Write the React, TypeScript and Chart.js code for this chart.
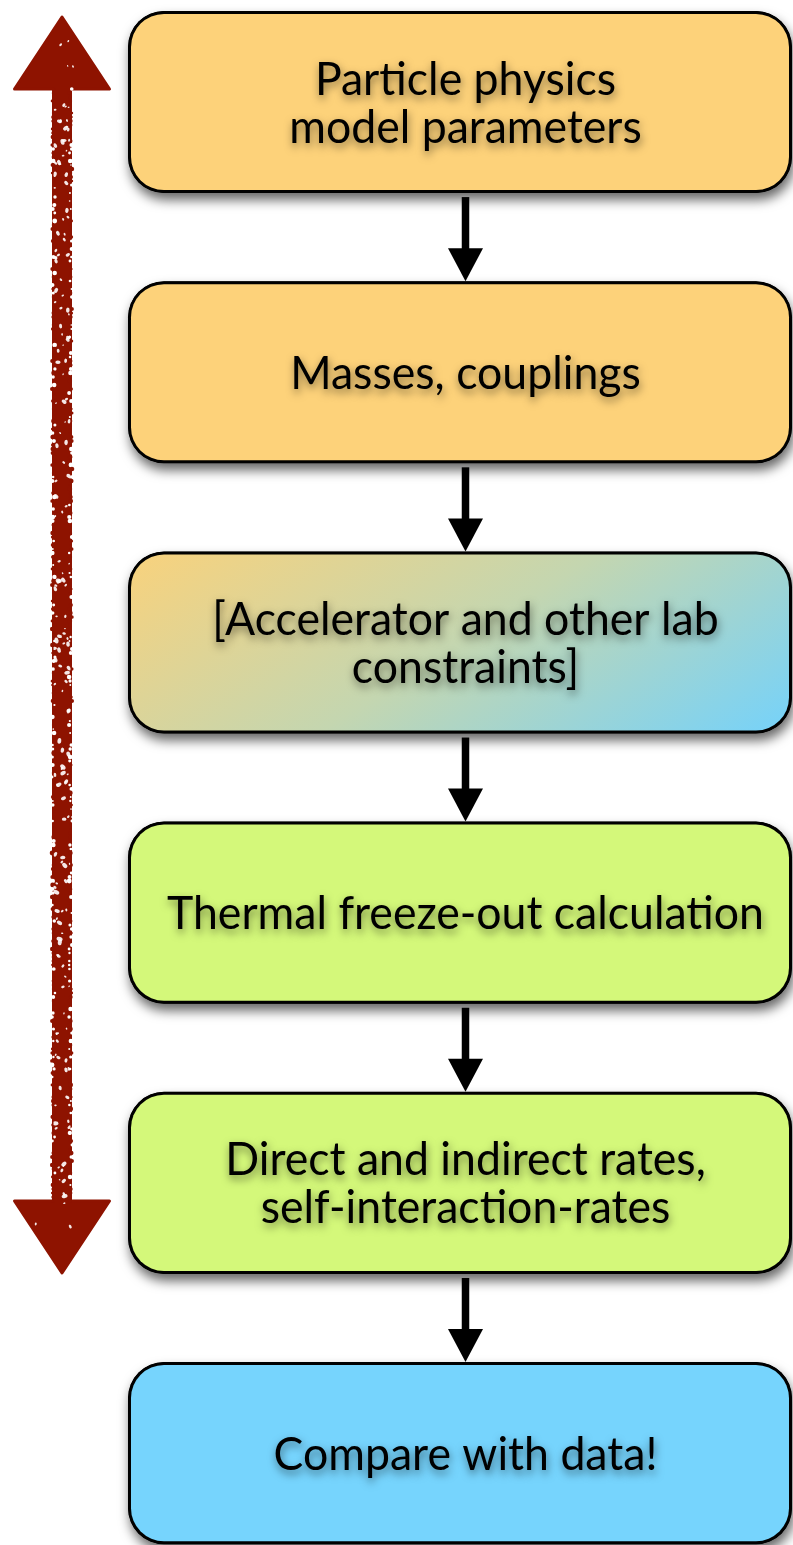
import { useEffect, useRef } from "react";
import { Chart, registerables } from "chart.js";

Chart.register(...registerables);

// ---- Data (diagram units: x in canvas-width units 0..793, y in step index) ----
const stepLabels: string[][] = [
  ["Particle physics", "model parameters"],
  ["Masses, couplings"],
  ["[Accelerator and other lab", "constraints]"],
  ["Thermal freeze-out calculation"],
  ["Direct and indirect rates,", "self-interaction-rates"],
  ["Compare with data!"],
];
const stepIndex = [0, 1, 2, 3, 4, 5];
const boxStart = [128, 128, 128, 128, 128, 128];
const boxEnd = [792, 792, 792, 792, 792, 792];
const connectorX = 465.5;
const feedbackX = 62;
const feedbackY = [-0.3146, 4.3335];

// ---- Styles ----
const ORANGE = "#fdd27a";
const GREEN = "#d4f87a";
const BLUE = "#76d4fd";
const stepFills = [ORANGE, ORANGE, "gradient", GREEN, GREEN, BLUE];
const RED = "#8e1300";

function roundRectPath(ctx: CanvasRenderingContext2D, x: number, y: number, w: number, h: number, r: number) {
  ctx.beginPath();
  ctx.moveTo(x + r, y);
  ctx.lineTo(x + w - r, y);
  ctx.arcTo(x + w, y, x + w, y + r, r);
  ctx.lineTo(x + w, y + h - r);
  ctx.arcTo(x + w, y + h, x + w - r, y + h, r);
  ctx.lineTo(x + r, y + h);
  ctx.arcTo(x, y + h, x, y + h - r, r);
  ctx.lineTo(x, y + r);
  ctx.arcTo(x, y, x + r, y, r);
  ctx.closePath();
}

function makeRng(seed: number) {
  let s = seed >>> 0;
  return () => {
    s = (s * 1664525 + 1013904223) >>> 0;
    return s / 4294967296;
  };
}

const flowPlugin = {
  id: "flow",
  beforeDatasetsDraw(chart: any) {
    const ctx = chart.ctx as CanvasRenderingContext2D;
    const meta = chart.getDatasetMeta(0);
    meta.data.forEach((el: any) => {
      const p = el.getProps(["x", "y", "base", "height"], true);
      const left = Math.min(p.x, p.base);
      const w = Math.abs(p.x - p.base);
      ctx.save();
      ctx.shadowColor = "rgba(0,0,0,0.6)";
      ctx.shadowBlur = 12;
      ctx.shadowOffsetX = 2;
      ctx.shadowOffsetY = 7;
      roundRectPath(ctx, left, p.y - p.height / 2, w, p.height, 36);
      ctx.fillStyle = "#000";
      ctx.fill();
      ctx.restore();
    });
  },
  afterDatasetsDraw(chart: any) {
    const ctx = chart.ctx as CanvasRenderingContext2D;
    const xs = chart.scales.x;
    const meta = chart.getDatasetMeta(0);
    const els = meta.data.map((el: any) => el.getProps(["x", "y", "base", "height"], true));
    const ax = xs.getPixelForValue(connectorX);

    // connector arrows
    for (let i = 0; i < els.length - 1; i++) {
      const a = els[i];
      const b = els[i + 1];
      const y0 = a.y + a.height / 2 + 4;
      const y1 = b.y - b.height / 2;
      const headLen = 33;
      const headW = 35;
      ctx.save();
      ctx.fillStyle = "#000";
      ctx.fillRect(ax - 3.75, y0, 7.5, y1 - headLen - y0 + 2);
      ctx.beginPath();
      ctx.moveTo(ax - headW / 2, y1 - headLen);
      ctx.lineTo(ax + headW / 2, y1 - headLen);
      ctx.lineTo(ax, y1);
      ctx.closePath();
      ctx.fill();
      ctx.restore();
    }

    // labels
    const fontSize = 46;
    const lineH = 48;
    const cap = 33;
    ctx.save();
    ctx.font = `${fontSize}px Lato, "Open Sans", sans-serif`;
    const refW = ctx.measureText(stepLabels[3][0]).width;
    const sx = 597 / refW;
    ctx.fillStyle = "#000";
    ctx.textAlign = "center";
    ctx.textBaseline = "alphabetic";
    ctx.shadowColor = "rgba(0,0,0,0.5)";
    ctx.shadowBlur = 9;
    ctx.shadowOffsetX = 1;
    ctx.shadowOffsetY = 4;
    els.forEach((p: any, i: number) => {
      const lines = stepLabels[i];
      const b1 = p.y + cap / 2 - ((lines.length - 1) * lineH) / 2;
      lines.forEach((line, j) => {
        ctx.save();
        ctx.translate(ax, b1 + j * lineH);
        ctx.scale(sx, 1);
        ctx.fillText(line, 0, 0);
        ctx.restore();
      });
    });
    ctx.restore();

    // feedback (red, hand-drawn) double arrow
    const fm = chart.getDatasetMeta(1);
    if (fm.data.length >= 2) {
      const t = fm.data[0].getProps(["x", "y"], true);
      const bt = fm.data[fm.data.length - 1].getProps(["x", "y"], true);
      const cx = t.x;
      const headLen = 72;
      const headW = 95;
      const shaftW = 17;
      const rng = makeRng(12345);
      const shape = () => {
        ctx.beginPath();
        ctx.moveTo(cx, t.y);
        ctx.lineTo(cx + headW / 2, t.y + headLen);
        ctx.lineTo(cx + shaftW / 2, t.y + headLen);
        ctx.lineTo(cx + shaftW / 2, bt.y - headLen);
        ctx.lineTo(cx + headW / 2, bt.y - headLen);
        ctx.lineTo(cx, bt.y);
        ctx.lineTo(cx - headW / 2, bt.y - headLen);
        ctx.lineTo(cx - shaftW / 2, bt.y - headLen);
        ctx.lineTo(cx - shaftW / 2, t.y + headLen);
        ctx.lineTo(cx - headW / 2, t.y + headLen);
        ctx.closePath();
      };
      ctx.save();
      ctx.fillStyle = RED;
      ctx.strokeStyle = RED;
      ctx.lineJoin = "round";
      ctx.lineWidth = 3;
      shape();
      ctx.fill();
      ctx.stroke();
      // rough edges along shaft
      for (let y = t.y + headLen; y < bt.y - headLen; y += 4) {
        for (const side of [-1, 1]) {
          const r = 0.8 + rng() * 1.6;
          const off = (rng() - 0.5) * 3;
          ctx.beginPath();
          ctx.arc(cx + side * (shaftW / 2 + off), y, r, 0, Math.PI * 2);
          ctx.fillStyle = rng() < 0.3 ? "#ffffff" : RED;
          ctx.fill();
        }
      }
      // speckles inside
      ctx.save();
      shape();
      ctx.clip();
      ctx.fillStyle = "rgba(255,255,255,0.9)";
      const n = 170;
      for (let k = 0; k < n; k++) {
        const yy = t.y + rng() * (bt.y - t.y);
        const inHead = yy < t.y + headLen || yy > bt.y - headLen;
        const half = inHead ? headW / 2 : shaftW / 2;
        const xx = cx + (rng() * 2 - 1) * half * 0.9;
        const rr = 0.6 + rng() * 1.5;
        ctx.beginPath();
        ctx.ellipse(xx, yy, rr * 1.5, rr, rng() * Math.PI, 0, Math.PI * 2);
        ctx.fill();
      }
      ctx.restore();
      ctx.restore();
    }
  },
};

export default function App() {
  const ref = useRef<HTMLCanvasElement | null>(null);

  useEffect(() => {
    document.body.style.margin = "0";
    document.body.style.overflow = "hidden";
    const canvas = ref.current;
    if (!canvas) return;

    const fill = (c: any) => {
      const i = c.dataIndex;
      const f = stepFills[i];
      if (f !== "gradient") return f;
      const chart = c.chart;
      const xs = chart.scales.x;
      const ys = chart.scales.y;
      if (!xs || !ys || !chart.chartArea) return ORANGE;
      const x0 = xs.getPixelForValue(boxStart[i]);
      const x1 = xs.getPixelForValue(boxEnd[i]);
      const h = Math.abs(ys.getPixelForValue(stepIndex[i] + 0.337) - ys.getPixelForValue(stepIndex[i] - 0.337));
      const top = ys.getPixelForValue(stepIndex[i]) - h / 2;
      const w = x1 - x0;
      // gradient direction: top-right ~70%, bottom-left ~30%
      const k = (0.3 * w) / (0.7 * h);
      const s = w / (0.7 * (1 + k * k));
      const g = chart.ctx.createLinearGradient(x0, top, x0 + s, top + s * k);
      g.addColorStop(0, "#f9d27c");
      g.addColorStop(0.5, "#c4d6b0");
      g.addColorStop(1, "#74d2fb");
      return g;
    };

    const chart = new Chart(canvas, {
      type: "bar",
      data: {
        datasets: [
          {
            type: "bar",
            label: "steps",
            data: stepIndex.map((i) => ({ x: [boxStart[i], boxEnd[i]], y: i })) as any,
            backgroundColor: fill as any,
            borderColor: "#000",
            borderWidth: 3,
            borderSkipped: false,
            borderRadius: 36,
            categoryPercentage: 0.674,
            barPercentage: 1,
          } as any,
          {
            type: "line",
            label: "iterate",
            data: feedbackY.map((y) => ({ x: feedbackX, y })) as any,
            showLine: false,
            pointRadius: 0,
          } as any,
        ],
      },
      options: {
        indexAxis: "y",
        animation: false,
        responsive: false,
        maintainAspectRatio: false,
        layout: { padding: 0 },
        scales: {
          x: { type: "linear", min: 0, max: 793, display: false, offset: false },
          y: {
            type: "linear",
            min: -0.3775,
            max: 5.34,
            reverse: true,
            display: false,
            offset: false,
            grid: { offset: false },
            afterBuildTicks: (s: any) => {
              s.ticks = stepIndex.map((v) => ({ value: v }));
            },
          },
        },
        plugins: { legend: { display: false }, tooltip: { enabled: false } },
      } as any,
      plugins: [flowPlugin as any],
    });
    return () => chart.destroy();
  }, []);

  return (
    <div style={{ position: "absolute", left: 0, top: 0, width: 793, height: 1545, background: "#fff" }}>
      <canvas ref={ref} width={793} height={1545} style={{ display: "block", width: 793, height: 1545 }} />
    </div>
  );
}
